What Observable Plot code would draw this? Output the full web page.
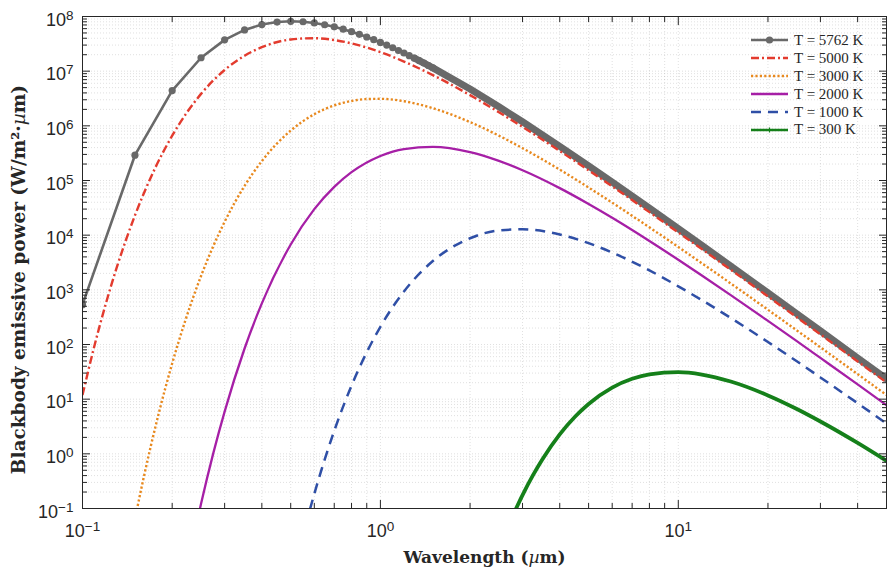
<!DOCTYPE html>
<html><head><meta charset="utf-8">
<script src="https://cdn.jsdelivr.net/npm/d3@7"></script>
<script src="https://cdn.jsdelivr.net/npm/@observablehq/plot@0.6"></script>
<style>
body{margin:0;background:#fff;}
#wrap{position:relative;width:887px;height:570px;}
#legend{position:absolute;left:751px;top:31.5px;font-family:"Liberation Serif","Times New Roman",serif;font-size:15px;color:#262626;line-height:1;}
.row{display:flex;align-items:center;height:17.9px;white-space:nowrap;}
.row svg{width:37px;height:10px;margin-right:6px;flex:none;}
</style></head><body><div id="wrap"><div id="legend"></div></div>
<script>
// ---- data ----
const legendLabels = ["T = 5762 K","T = 5000 K","T = 3000 K","T = 2000 K","T = 1000 K","T = 300 K"];
const colors = ["#696969","#e33b2e","#e8891e","#a61fa6","#2f4fa6","#15801a"];

const wl5762 = [0.1,0.15,0.2,0.25,0.3,0.35,0.4,0.45,0.5,0.55,0.6,0.65,0.7,0.75,0.8,0.85,0.9,0.95,1.0,1.05,1.1,1.15,1.2,1.25,1.3,1.35,1.4,1.45,1.5,2,2.5,3,4,5,6,8,10,12,15,20,25,30,40,50];
const e5762  = [535,2.90e5,4.42e6,1.76e7,3.74e7,5.68e7,7.12e7,7.92e7,8.17e7,8.02e7,7.62e7,7.07e7,6.47e7,5.86e7,5.27e7,4.72e7,4.22e7,3.76e7,3.36e7,3.00e7,2.68e7,2.39e7,2.15e7,1.92e7,1.73e7,1.56e7,1.41e7,1.27e7,1.15e7,4.71e6,2.23e6,1.19e6,4.22e5,1.85e5,9.32e4,3.12e4,1.32e4,6.50e3,2.72e3,879,365,177,56.7,23.4];

const wl5000 = [0.1,0.11,0.12,0.13,0.15,0.175,0.2,0.25,0.3,0.35,0.4,0.5,0.6,0.7,0.8,1,1.2,1.5,2,2.5,3,4,5,6,8,10,12,15,20,25,30,40,50];
const e5000  = [11.9,101,579,2.46e3,2.30e4,1.65e5,6.60e5,3.84e6,1.05e7,1.92e7,2.75e7,3.80e7,4.01e7,3.71e7,3.22e7,2.23e7,1.50e7,8.48e6,3.64e6,1.77e6,9.57e5,3.47e5,1.54e5,7.82e4,2.64e4,1.12e4,5.55e3,2.33e3,756,314,153,49.0,20.2];

const wl3000 = [0.15,0.16,0.18,0.2,0.22,0.25,0.3,0.35,0.4,0.5,0.6,0.7,0.8,0.9,1,1.2,1.5,2,2.5,3,4,5,6,8,10,12,15,20,25,30,40,50];
const e3000  = [0.0641,0.342,5.31,45.0,247,1.79e3,1.76e4,7.97e4,2.27e5,8.18e5,1.63e6,2.36e6,2.85e6,3.09e6,3.12e6,2.82e6,2.10e6,1.17e6,6.60e5,3.90e5,1.58e5,7.44e4,3.93e4,1.39e4,6.08e3,3.06e3,1.31e3,432,181,88.8,28.7,11.9];

const wl2000 = [0.24,0.25,0.275,0.3,0.35,0.4,0.5,0.6,0.7,0.8,1,1.2,1.5,2,2.5,3,4,5,6,8,10,12,15,20,25,30,40,50];
const e2000  = [0.0451,0.122,1.04,5.93,84.5,565,6.76e3,2.99e4,7.66e4,1.42e5,2.81e5,3.76e5,4.11e5,3.30e5,2.28e5,1.54e5,7.25e4,3.72e4,2.08e4,7.83e3,3.55e3,1.83e3,801,270,115,56.8,18.6,7.74];

const wl1000 = [0.58,0.6,0.65,0.7,0.8,0.9,1,1.2,1.5,2,2.5,3,4,5,6,8,10,12,15,20,25,30,40,50];
const e1000  = [0.096,0.185,0.786,2.64,17.7,72.3,211,933,3.36e3,8.79e3,1.22e4,1.28e4,1.03e4,7.14e3,4.81e3,2.27e3,1.16e3,649,306,111,49.3,25.0,8.44,3.59];

const wl300 = [2.85,3,3.25,3.5,4,4.5,5,6,7,8,10,12,15,20,25,30,40,50];
const e300  = [0.098,0.176,0.403,0.797,2.27,4.77,8.18,16.3,23.6,28.5,31.2,28.2,21.0,11.7,6.60,3.90,1.58,0.744];

const xMajor = [0.1,1,10];
const yMajor = [0.1,1,10,100,1e3,1e4,1e5,1e6,1e7,1e8];
const xLabel = "Wavelength (µm)";
const yLabel = "Blackbody emissive power (W/m²·µm)";

// ---- build ----
const rows = (wl, e) => wl.map((w, i) => ({w, e: e[i]}));
const r5762 = rows(wl5762, e5762), r5000 = rows(wl5000, e5000), r3000 = rows(wl3000, e3000),
      r2000 = rows(wl2000, e2000), r1000 = rows(wl1000, e1000), r300 = rows(wl300, e300);

const minors = (majors, max) => majors.flatMap(d => [2,3,4,5,6,7,8,9].map(k => d * k)).filter(v => v <= max * 1.0001);
const xMinor = minors(xMajor, 50);
const yMinor = minors(yMajor.slice(0, -1), 1e8);

const ink = "#262626";
const fmt = d => "10^" + String(Math.round(Math.log10(d))).replace("-", "\u2212");
const grid = {stroke: "#a8a8a8", strokeOpacity: 0.45, strokeDasharray: "1,2", strokeWidth: 0.8};
const tickOpts = (anchor, size) => ({anchor, tickSize: size, tickFormat: () => "", stroke: ink, label: null});

const chart = Plot.plot({
  width: 887, height: 570,
  marginLeft: 82, marginRight: 1, marginTop: 16, marginBottom: 62,
  x: {type: "log", domain: [0.1, 50], axis: null, label: null},
  y: {type: "log", domain: [0.1, 1e8], axis: null, label: null},
  style: {background: "#fff"},
  marks: [
    Plot.gridX(xMajor.concat(xMinor), grid),
    Plot.gridY(yMajor.concat(yMinor), grid),
    // 5762 K with circle markers
    Plot.line(r5762, {x: "w", y: "e", stroke: colors[0], strokeWidth: 2.6, clip: true}),
    Plot.line(r5762.filter(d => d.w >= 1.3), {x: "w", y: "e", stroke: colors[0], strokeWidth: 7, strokeLinecap: "round", strokeLinejoin: "round", clip: true}),
    Plot.dot(r5762.filter(d => d.w <= 1.5), {x: "w", y: "e", r: 3.6, fill: colors[0], clip: true}),
    Plot.line(r5000, {x: "w", y: "e", stroke: colors[1], strokeWidth: 2.4, strokeDasharray: "8,3,2,3", strokeLinecap: "butt", curve: "monotone-x", clip: true}),
    Plot.line(r3000, {x: "w", y: "e", stroke: colors[2], strokeWidth: 2.4, strokeDasharray: "2.2,2.2", strokeLinecap: "butt", curve: "monotone-x", clip: true}),
    Plot.line(r2000, {x: "w", y: "e", stroke: colors[3], strokeWidth: 2.3, curve: "monotone-x", clip: true}),
    Plot.line(r1000, {x: "w", y: "e", stroke: colors[4], strokeWidth: 2.5, strokeDasharray: "10,7", strokeLinecap: "butt", curve: "monotone-x", clip: true}),
    Plot.line(r300, {x: "w", y: "e", stroke: colors[5], strokeWidth: 3.8, curve: "monotone-x", clip: true}),
    Plot.frame({stroke: ink}),
    // inward ticks on all four sides
    Plot.axisX(xMajor, tickOpts("bottom", -8)),
    Plot.axisX(xMinor, tickOpts("bottom", -5)),
    Plot.axisX(xMajor, tickOpts("top", -8)),
    Plot.axisX(xMinor, tickOpts("top", -5)),
    Plot.axisY(yMajor, tickOpts("left", -8)),
    Plot.axisY(yMinor, tickOpts("left", -5)),
    Plot.axisY(yMajor, tickOpts("right", -8)),
    Plot.axisY(yMinor, tickOpts("right", -5)),
    // tick labels
    Plot.axisX(xMajor, {anchor: "bottom", tickSize: 0, tickPadding: 16, tickFormat: fmt, fontSize: 18, fontFamily: "Liberation Sans, Arial, sans-serif", fill: ink, label: null}),
    Plot.axisY(yMajor, {anchor: "left", tickSize: 0, tickPadding: 9, tickFormat: fmt, fontSize: 18, fontFamily: "Liberation Sans, Arial, sans-serif", fill: ink, dy: 3.5, label: null}),
    // axis titles
    Plot.text([xLabel], {text: d => d, frameAnchor: "bottom", textAnchor: "middle", dy: 54, fontSize: 17, fontWeight: "bold", fontFamily: "DejaVu Serif, serif", fill: ink}),
    Plot.text([yLabel], {text: d => d, frameAnchor: "left", textAnchor: "middle", rotate: -90, dx: -63, dy: 17, fontSize: 18.5, fontWeight: "bold", fontFamily: "DejaVu Serif, serif", fill: ink})
  ]
});

// superscripts and italic mu
const NS = "http://www.w3.org/2000/svg";
d3.select(chart).selectAll("text").each(function() {
  const t = this.textContent;
  const m = t.match(/^10\^(.+)$/);
  if (m) {
    this.textContent = "10";
    const s = document.createElementNS(NS, "tspan");
    s.setAttribute("dy", "-6");
    s.setAttribute("font-size", "13.5");
    s.textContent = m[1];
    this.appendChild(s);
  } else if (t.includes("µ") && t.length > 5) {
    const parts = t.split("µ");
    this.textContent = "";
    parts.forEach((p, i) => {
      if (i > 0) {
        const it = document.createElementNS(NS, "tspan");
        it.setAttribute("font-style", "italic");
        it.setAttribute("font-weight", "normal");
        it.textContent = "µ";
        this.appendChild(it);
      }
      const n = document.createElementNS(NS, "tspan");
      n.textContent = p;
      this.appendChild(n);
    });
  }
});
document.getElementById("wrap").prepend(chart);

// legend
const swatch = [
  `<line x1="0" x2="37" y1="5" y2="5" stroke="${colors[0]}" stroke-width="2.6"/><circle cx="18.5" cy="5" r="3.6" fill="${colors[0]}"/>`,
  `<line x1="0" x2="37" y1="5" y2="5" stroke="${colors[1]}" stroke-width="2.4" stroke-dasharray="8,3,2,3"/>`,
  `<line x1="0" x2="37" y1="5" y2="5" stroke="${colors[2]}" stroke-width="2.4" stroke-dasharray="2.2,2.2"/>`,
  `<line x1="0" x2="37" y1="5" y2="5" stroke="${colors[3]}" stroke-width="2.3"/>`,
  `<line x1="0" x2="37" y1="5" y2="5" stroke="${colors[4]}" stroke-width="2.5" stroke-dasharray="10,7"/>`,
  `<line x1="0" x2="37" y1="5" y2="5" stroke="${colors[5]}" stroke-width="2.3"/><line x1="18.5" x2="18.5" y1="2.5" y2="7.5" stroke="${colors[5]}" stroke-width="1.2"/>`
];
document.getElementById("legend").innerHTML = legendLabels.map((l, i) =>
  `<div class="row"><svg viewBox="0 0 37 10">${swatch[i]}</svg><span>${l}</span></div>`).join("");
</script>
</body></html>
